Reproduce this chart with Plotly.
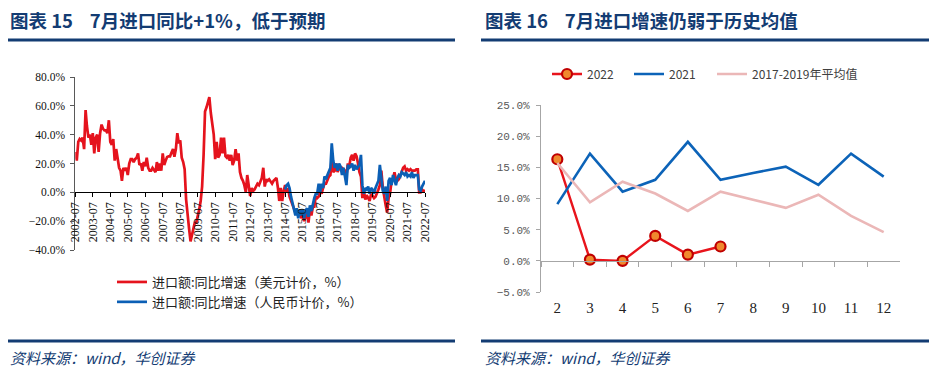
import plotly.graph_objects as go
import pandas as pd

# ---------------- Left chart data (monthly, 2002-07 .. 2022-07) ----------------
start_month = "2002-07-01"
import_usd_yoy = [
    28, 22, 35, 37, 36, 38, 30, 57, 46, 38, 40, 33,
    41, 27, 38, 40, 28, 41, 47, 44, 43, 43, 41, 50,
    35, 33, 37, 22, 30, 22, 17, 15, 8, 17, 15, 17,
    12, 20, 23, 23, 21, 23, 24, 27, 19, 20, 15, 21,
    18, 24, 17, 15, 15, 17, 15, 14, 21, 15, 20, 15,
    27, 19, 22, 24.5, 25, 25, 27.6, 30, 24.6, 30, 41, 34,
    36, 24, 21, 16, -5, -18, -25, -34, -30, -25, -21, -21,
    -17, -12, -6, 4, 26, 56, 59, 63, 66, 55, 48, 40,
    23, 35, 24, 26, 38, 27, 38, 25, 24, 26, 22, 26,
    19, 22, 30, 22, 27, 14, 10, 8, 5, 0, 12, 5,
    -2.5, 3, 1, 2, 4, 6, 5, 8, 10, 17, 4, 9,
    8, 9, 7, 6, 8, 9, 10, 3, -6, 3, -6, 1,
    5, 0, 3, -3, -6, -8, -11, -14, -13, -16, -14, -18,
    -15, -20, -17, -15, -21, -12, -16, -10, -10, -3, -4, -3,
    1, -1, 3, 6, 6, 9, 11, 12, 24, 14, 15, 20,
    14, 19, 16, 17, 16, 15, 12, 20, 18, 24, 26, 22,
    27, 25, 20, 14, 11, -4, 1, -5, -2, -4, -6, -1,
    -3, -4, -3, -1, 2, 5, 15, 3, -4, -9, -14, -4,
    -1, 8, 9, 14, 9, 8, 9, 12, 15, 17, 18, 15,
    16, 15, 16, 15, 15, 15, 16, 16, 0, 0, 2, 1,
    1,
]
rmb_start_month = "2014-07-01"
import_rmb_yoy = [
    2, 5, 6, 3, -3, -8, -12, -16, -11, -18, -12, -16,
    -12, -18, -13, -11, -17, -9, -13, -7, -4, -1, -1, 6,
    0, 6, 3, 11, 9, 12, 14, 17, 34, 22, 17, 20,
    15, 20, 18, 12, 17, 11, 5, 19, 17, 18, 20, 15,
    19, 16, 18, 19, 26, 5, -1, 3, 2, 4, -1, 3,
    2, -1, 3, 5, 8, 19, 10, 1, -1, 4, -6, 8,
    10, 5, 12, 8, 5, 10, 12, 11, 14, 13, 12, 14,
    11, 12, 11, 14, 10, 12, 12, 12, 2, 1, 4, 6,
    8,
]
left_names = ["进口额:同比增速（美元计价，%）", "进口额:同比增速（人民币计价，%）"]

# ---------------- Right chart data ----------------
months = ["2", "3", "4", "5", "6", "7", "8", "9", "10", "11", "12"]
y2022 = [16.3, 0.2, 0.0, 4.0, 1.0, 2.3]
y2021 = [9.1, 17.2, 11.1, 13.0, 19.1, 13.0, 14.1, 15.1, 12.2, 17.2, 13.5]
yavg = [15.7, 9.4, 12.7, 10.8, 8.0, 11.1, 9.8, 8.5, 10.6, 7.2, 4.6]
right_names = ["2022", "2021", "2017-2019年平均值"]

# ---------------- Figure ----------------
# the page body adds an 8px offset; the figure is sized to the remaining window
OFF = 8
W, H = 941 - OFF, 381 - OFF
def fx(px):
    return (px - OFF) / W
def fy(py):
    return (H - (py - OFF)) / H

dates_usd = pd.date_range(start_month, periods=len(import_usd_yoy), freq="MS")
dates_rmb = pd.date_range(rmb_start_month, periods=len(import_rmb_yoy), freq="MS")

RED = "#E5131D"
BLUE = "#0B5FB5"
NAVY = "#133C73"
SERIF = "Liberation Serif, Times New Roman, serif"
CJK = "Noto Sans CJK SC, sans-serif"
NB = "\u00a0"

fig = go.Figure()
fig.add_trace(go.Scatter(x=dates_usd, y=import_usd_yoy, mode="lines", name=left_names[0],
                         line=dict(color=RED, width=2.7), xaxis="x", yaxis="y", legend="legend"))
fig.add_trace(go.Scatter(x=dates_rmb, y=import_rmb_yoy, mode="lines", name=left_names[1],
                         line=dict(color=BLUE, width=2.7), xaxis="x", yaxis="y", legend="legend"))

fig.add_trace(go.Scatter(x=months[:len(y2022)], y=y2022, mode="lines+markers", name=right_names[0],
                         line=dict(color="#E8141C", width=2.4),
                         marker=dict(size=10, color="#F0892E", line=dict(color="#C00000", width=2.2)),
                         xaxis="x2", yaxis="y2", legend="legend2"))
fig.add_trace(go.Scatter(x=months, y=y2021, mode="lines", name=right_names[1],
                         line=dict(color="#0C63B8", width=2.6),
                         xaxis="x2", yaxis="y2", legend="legend3"))
fig.add_trace(go.Scatter(x=months, y=yavg, mode="lines", name=right_names[2],
                         line=dict(color="#EBB7B7", width=2.6),
                         xaxis="x2", yaxis="y2", legend="legend4"))
# invisible trace carrying the zero-line axis of the right chart
fig.add_trace(go.Scatter(x=months, y=[None] * len(months), mode="lines", showlegend=False,
                         hoverinfo="skip", xaxis="x3", yaxis="y2"))

# geometry (window pixels)
L_x0, L_x1 = 75.3, 425.0
L_ytop, L_ybot = 77.0, 250.0
R_x0, R_x1 = 541.0, 900.0
R_ytop, R_ybot = 105.0, 292.0

right_legend = lambda xpx: dict(x=fx(xpx), y=fy(74), xanchor="left", yanchor="middle",
                                orientation="h", bgcolor="rgba(0,0,0,0)",
                                font=dict(family=CJK, size=12, color="#404040"))

fig.update_layout(
    width=W, height=H, margin=dict(l=0, r=0, t=0, b=0, autoexpand=False),
    paper_bgcolor="white", plot_bgcolor="white",
    xaxis=dict(domain=[fx(L_x0), fx(L_x1)], type="date",
               range=["2002-07-01", "2022-07-01"],
               tick0="2002-07-01", dtick="M12", tickformat="%Y-%m",
               tickangle=-90, ticks="outside", ticklen=4, tickcolor="#000000",
               showline=True, linecolor="#000000", linewidth=1.2,
               showgrid=False, zeroline=False,
               anchor="free", position=fy(L_ybot) + (fy(L_ytop) - fy(L_ybot)) / 3.0,
               tickfont=dict(family=SERIF, size=12, color="#111111")),
    yaxis=dict(domain=[fy(L_ybot), fy(L_ytop)], range=[-40, 80], dtick=20,
               tickformat=".1f", ticksuffix="%", ticks="outside", ticklen=4,
               ticklabelstandoff=3,
               tickcolor="#595959", showline=True, linecolor="#595959", linewidth=1,
               showgrid=False, zeroline=False, anchor="x",
               tickfont=dict(family=SERIF, size=11.5, color="#111111")),
    xaxis2=dict(domain=[fx(R_x0), fx(R_x1)], type="category", range=[-0.5, 10.5],
                showline=False, ticks="", showgrid=False, zeroline=False,
                anchor="y2", ticklabelstandoff=5,
                tickfont=dict(family=SERIF, size=15, color="#222222")),
    xaxis3=dict(domain=[fx(R_x0), fx(R_x1)], type="category", range=[-0.5, 10.5],
                matches="x2", overlaying="x2", showticklabels=False,
                anchor="free", position=fy(R_ybot) + (fy(R_ytop) - fy(R_ybot)) / 6.0,
                showline=True, linecolor="#A6A6A6", linewidth=1.2,
                ticks="outside", tickson="boundaries", ticklen=5, tickcolor="#A6A6A6",
                showgrid=False, zeroline=False),
    yaxis2=dict(domain=[fy(R_ybot), fy(R_ytop)], range=[-5, 25], dtick=5,
                tickformat=".1f", ticksuffix="%", ticks="outside", ticklen=4,
                ticklabelstandoff=4,
                tickcolor="#A6A6A6", showline=True, linecolor="#A6A6A6", linewidth=1.2,
                showgrid=False, zeroline=False, anchor="x2",
                tickfont=dict(family="Liberation Mono, monospace", size=11, color="#595959")),
    legend=dict(x=fx(112), y=fy(267), xanchor="left", yanchor="top",
                orientation="v", bgcolor="rgba(0,0,0,0)", tracegroupgap=0,
                itemwidth=30, font=dict(family=CJK, size=13, color="#222222")),
    legend2=right_legend(547),
    legend3=right_legend(629),
    legend4=right_legend(712),
    showlegend=True,
)

# titles, rules, sources
titles = [
    ("<b>图表 15" + NB * 4 + "7月进口同比+1%，低于预期</b>", 8),
    ("<b>图表 16" + NB * 4 + "7月进口增速仍弱于历史均值</b>", 483),
]
for txt, x0 in titles:
    fig.add_annotation(text=txt, x=fx(x0), y=fy(20), xref="paper", yref="paper",
                       xanchor="left", yanchor="middle", showarrow=False,
                       font=dict(family=CJK, size=18.5, color=NAVY))
for x0 in (8, 483):
    fig.add_annotation(text="资料来源：wind，华创证券", x=fx(x0), y=fy(357), xref="paper", yref="paper",
                       xanchor="left", yanchor="middle", showarrow=False,
                       font=dict(family=CJK, size=15, color=NAVY, style="italic"))

for (x0, x1) in [(8, 455), (481, 929)]:
    for yy in (40, 341):
        fig.add_shape(type="line", xref="paper", yref="paper",
                      x0=fx(x0), x1=fx(x1), y0=fy(yy), y1=fy(yy),
                      line=dict(color=NAVY, width=3))

fig.write_html("out.html")
